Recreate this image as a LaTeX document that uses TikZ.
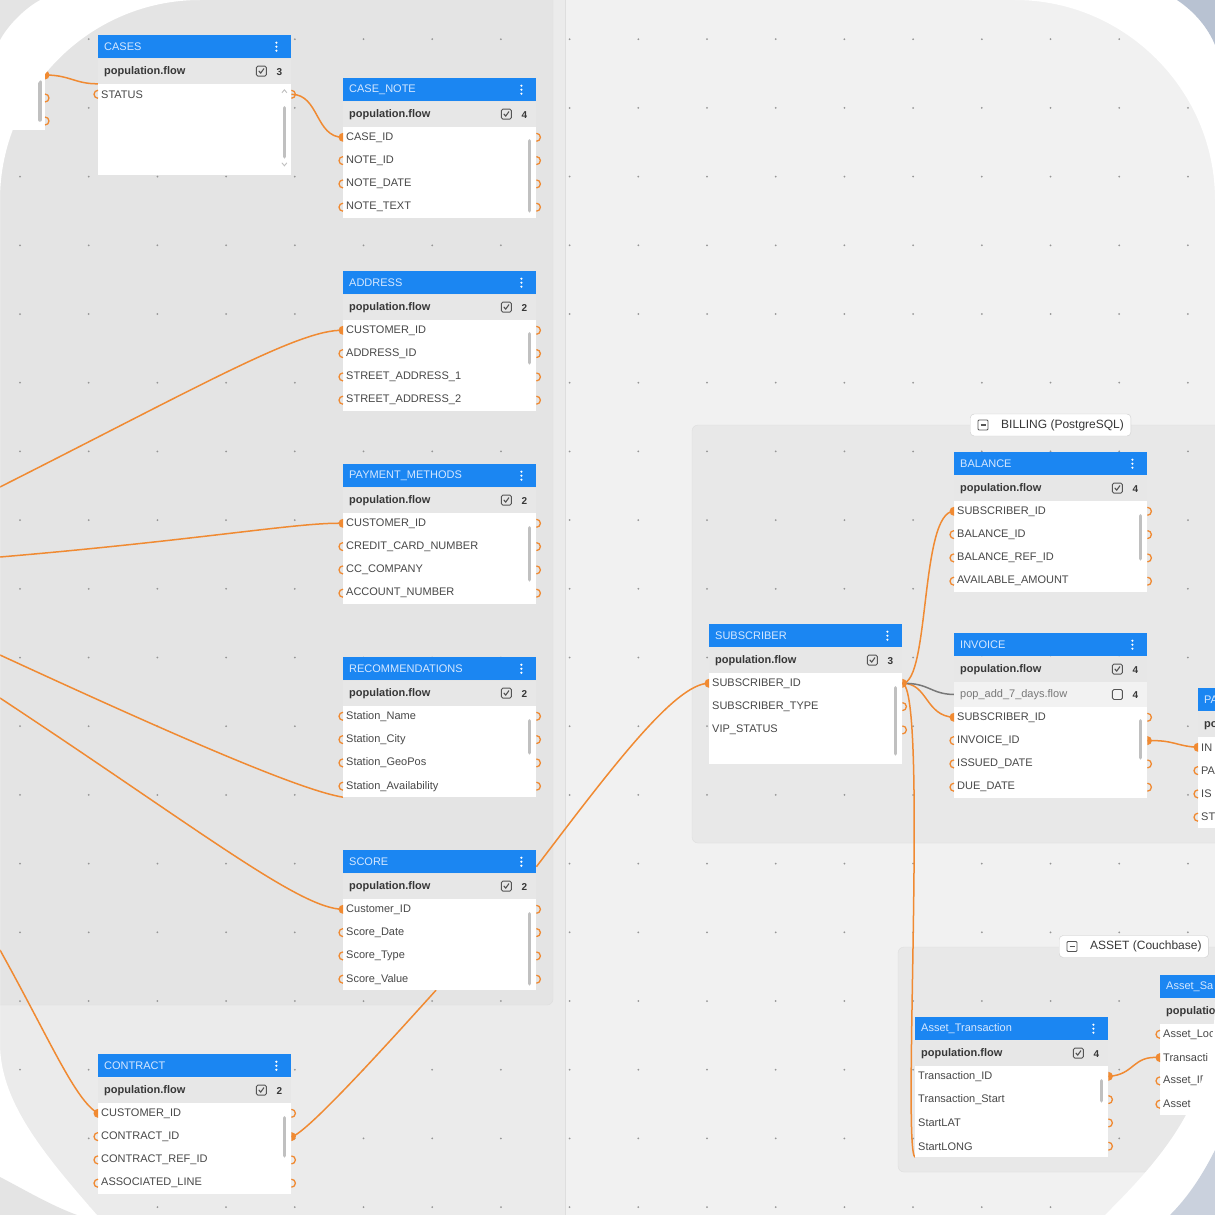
\documentclass[tikz,border=0pt]{standalone}
\usepackage{fontspec}
\setmainfont{Liberation Sans}
\usetikzlibrary{calc,positioning}
\pgfdeclarelayer{bg}
\pgfdeclarelayer{lines}
\pgfdeclarelayer{fg}
\pgfsetlayers{bg,lines,main,fg}

\definecolor{dbblue}{RGB}{27,134,242}
\definecolor{titletext}{RGB}{214,232,255}
\definecolor{headgray}{RGB}{231,231,231}
\definecolor{popgray}{RGB}{242,242,242}
\definecolor{headtext}{RGB}{55,55,55}
\definecolor{rowtext}{RGB}{72,72,72}
\definecolor{chkgray}{RGB}{85,85,85}
\definecolor{scrollgray}{RGB}{192,192,192}
\definecolor{linkorange}{RGB}{240,138,50}
\definecolor{linkgray}{RGB}{120,120,120}
\definecolor{canvas}{RGB}{241,241,241}
\definecolor{leftcol}{RGB}{235,235,235}
\definecolor{panelgray}{RGB}{228,228,228}
\definecolor{grpgray}{RGB}{232,232,232}
\definecolor{grpline}{RGB}{222,222,222}
\definecolor{dotgray}{RGB}{150,150,150}
\definecolor{labelline}{RGB}{205,205,205}
\definecolor{outergray}{RGB}{228,228,228}
\definecolor{outerblue}{RGB}{184,194,210}

\newcommand\dbtable[7][0]{%
  \node[dbtitle] (#2) at (#3,#4) {#5};
  \foreach \d in {-4,0,4}
    \fill[white] ([xshift=-15pt,yshift=\d pt]#2.east) circle[radius=1.2pt];
  \node[dbhead] (#2-h) at (#2.south west) {population.flow};
  \node[chk] at ([xshift=-30pt]#2-h.east) {};
  \node[cnt] at ([xshift=-12pt,yshift=-1pt]#2-h.east) {#6};
  \node[dbbody] (#2-b) at ([yshift=-#1pt]#2-h.south west) {};
  \foreach \f [count=\i] in {#7}
    \node[dbrow] (#2-\i) at ([yshift={-10.5-23.3*(\i-1)}]#2-b.north west) {\f};
}

\begin{document}
\begin{tikzpicture}[x=1pt,y=-1pt,
  dbtitle/.style={anchor=north west,fill=dbblue,text=titletext,minimum height=23pt,text width=181pt,inner xsep=6pt,inner ysep=0pt,align=left,font=\fontsize{11}{13}\selectfont},
  dbhead/.style={anchor=north west,fill=headgray,text=headtext,minimum height=25pt,text width=181pt,text height=8pt,text depth=2pt,inner xsep=6pt,inner ysep=0pt,align=left,font=\bfseries\fontsize{11}{13}\selectfont},
  dbbody/.style={anchor=north west,fill=white,minimum width=193pt,minimum height=91pt,inner sep=0pt},
  dbrow/.style={anchor=west,text=rowtext,text width=187pt,inner xsep=3pt,inner ysep=0pt,align=left,font=\fontsize{11}{13}\selectfont},
  chkbox/.style={draw=chkgray,line width=0.9pt,rounded corners=1.5pt,minimum size=10pt,inner sep=0pt},
  chk/.style={chkbox,path picture={\draw[chkgray,line width=1.1pt,sharp corners] ([xshift=-2.6pt,yshift=0.2pt]path picture bounding box.center) -- ++(1.9pt,-2.2pt) -- ++(3.3pt,4.6pt);}},
  cnt/.style={text=headtext,inner sep=0pt,font=\bfseries\fontsize{10}{12}\selectfont},
  scroll/.style={draw=scrollgray,line width=3.5pt,line cap=round},
  scrollarrow/.style={draw=scrollgray,line width=0.9pt},
  link/.style={draw=linkorange,line width=1.5pt},
  glink/.style={draw=linkgray,line width=1.5pt},
  grouplabel/.style={anchor=west,fill=white,draw=labelline,rounded corners=4pt,minimum height=22pt,inner xsep=7pt,inner ysep=0pt,text=headtext,font=\fontsize{12}{14}\selectfont},
  minusbox/.style={draw=chkgray,line width=0.8pt,rounded corners=1pt,minimum size=10pt,inner sep=0pt,path picture={\draw[chkgray,line width=1.2pt] ([xshift=-2.5pt]path picture bounding box.center) -- ++(5pt,0pt);}},
  portl/.pic={\draw[linkorange,line width=1.3pt] (0pt,4pt) arc[start angle=90,end angle=270,radius=4pt];},
  portr/.pic={\draw[linkorange,line width=1.3pt] (0pt,4pt) arc[start angle=90,end angle=-90,radius=4pt];},
  portlf/.pic={\fill[linkorange] (0pt,4.5pt) arc[start angle=90,end angle=270,radius=4.5pt] -- cycle;},
  portrf/.pic={\fill[linkorange] (0pt,4.5pt) arc[start angle=90,end angle=-90,radius=4.5pt] -- cycle;}]
\useasboundingbox (0,0) rectangle (1215,1215);

\begin{pgfonlayer}{bg}
  \fill[canvas] (-5,-5) rectangle (1220,1220);
  \fill[leftcol] (-5,-5) rectangle (565,1220);
  \draw[grpline] (565,-5) -- (565,1220);
  \filldraw[fill=panelgray,draw=grpline,rounded corners=6pt] (-20,-20) rectangle (553,1005);
  \filldraw[fill=grpgray,draw=grpline,rounded corners=6pt] (692,425) rectangle (1240,843);
  \filldraw[fill=grpgray,draw=grpline,rounded corners=6pt] (898,947) rectangle (1240,1172);
  \foreach \i in {0,...,17}
    \foreach \j in {0,...,17}
      \fill[dotgray] ({20+68.7*\i},{39.2+68.7*\j}) circle[radius=1pt];
\end{pgfonlayer}

\node[grouplabel] (billing) at (970,425) {\hspace{24pt}BILLING (PostgreSQL)};
\node[minusbox] at ([xshift=13pt]billing.west) {};
\node[grouplabel] (asset) at (1059,946.5) {\hspace{24pt}ASSET (Couchbase)};
\node[minusbox] at ([xshift=13pt]asset.west) {};

\node[fill=white,anchor=north east,minimum width=60pt,minimum height=70pt,inner sep=0pt] (lp) at (45,60) {};
\coordinate (lp-1) at (45,75);
\coordinate (lp-2) at (45,98);
\coordinate (lp-3) at (45,121);
\draw[scroll] (40,82) -- (40,120);

\dbtable{cases}{98}{35}{CASES}{3}{STATUS}
\dbtable{casenote}{343}{78}{CASE\_NOTE}{4}{CASE\_ID,NOTE\_ID,NOTE\_DATE,NOTE\_TEXT}
\dbtable{address}{343}{271}{ADDRESS}{2}{CUSTOMER\_ID,ADDRESS\_ID,STREET\_ADDRESS\_1,STREET\_ADDRESS\_2}
\dbtable{payment}{343}{464}{PAYMENT\_METHODS}{2}{CUSTOMER\_ID,CREDIT\_CARD\_NUMBER,CC\_COMPANY,ACCOUNT\_NUMBER}
\dbtable{recomm}{343}{657}{RECOMMENDATIONS}{2}{Station\_Name,Station\_City,Station\_GeoPos,Station\_Availability}
\dbtable{score}{343}{850}{SCORE}{2}{Customer\_ID,Score\_Date,Score\_Type,Score\_Value}
\dbtable{contract}{98}{1054}{CONTRACT}{2}{CUSTOMER\_ID,CONTRACT\_ID,CONTRACT\_REF\_ID,ASSOCIATED\_LINE}
\dbtable{subscriber}{709}{624}{SUBSCRIBER}{3}{SUBSCRIBER\_ID,SUBSCRIBER\_TYPE,VIP\_STATUS}
\dbtable{balance}{954}{452}{BALANCE}{4}{SUBSCRIBER\_ID,BALANCE\_ID,BALANCE\_REF\_ID,AVAILABLE\_AMOUNT}
\dbtable[25]{invoice}{954}{633}{INVOICE}{4}{SUBSCRIBER\_ID,INVOICE\_ID,ISSUED\_DATE,DUE\_DATE}
\node[dbhead,fill=popgray,text=linkgray,font=\fontsize{11}{13}\selectfont] (invoice-p) at (invoice-h.south west) {pop\_add\_7\_days.flow};
\node[chkbox] at ([xshift=-30pt]invoice-p.east) {};
\node[cnt] at ([xshift=-12pt,yshift=-1pt]invoice-p.east) {4};
\dbtable{pa}{1198}{688}{PA}{}{IN,PA,IS,ST}
\dbtable{assettr}{915}{1017}{Asset\_Transaction}{4}{Transaction\_ID,Transaction\_Start,StartLAT,StartLONG}
\dbtable{assetsa}{1160}{975}{Asset\_Sa}{}{Asset\_Loc,Transacti,Asset\_ID,Asset}

\foreach \t/\a/\b in {cases/24/73,casenote/14/84,address/14/43,payment/15/67,recomm/15/47,score/15/85,contract/15/53,subscriber/15/81,balance/15/58,invoice/14/51,assettr/15/35}
  \draw[scroll] ([xshift=-7pt,yshift=-\a pt]\t-b.north east) -- ([xshift=-7pt,yshift=-\b pt]\t-b.north east);
\draw[scrollarrow] ([xshift=-9.5pt,yshift=-9pt]cases-b.north east) -- ++(2.5pt,3pt) -- ++(2.5pt,-3pt);
\draw[scrollarrow] ([xshift=-9.5pt,yshift=-79pt]cases-b.north east) -- ++(2.5pt,-3pt) -- ++(2.5pt,3pt);

\foreach \t in {casenote,address,payment,recomm,score,balance}
  \foreach \i in {1,...,4}
    \pic at (\t-\i.east) {portr};
\foreach \t/\i in {cases/1,invoice/1,invoice/3,invoice/4,contract/1,contract/3,contract/4,subscriber/2,subscriber/3,assettr/2,assettr/3,assettr/4}
  \pic at (\t-\i.east) {portr};
\foreach \t/\i in {invoice/2,contract/2,subscriber/1,assettr/1}
  \pic at (\t-\i.east) {portrf};
\foreach \t in {casenote,address,payment,score,balance,invoice,contract,subscriber,pa}
  \pic at (\t-1.west) {portlf};
\foreach \t in {casenote,address,payment,score,balance,invoice,contract,pa}
  \foreach \i in {2,3,4}
    \pic at (\t-\i.west) {portl};
\foreach \t/\i in {recomm/1,recomm/2,recomm/3,recomm/4,cases/1,assetsa/1,assetsa/3,assetsa/4}
  \pic at (\t-\i.west) {portl};
\pic at (assetsa-2.west) {portlf};
\pic at (lp-1) {portrf};
\pic at (lp-2) {portr};
\pic at (lp-3) {portr};

\coordinate (from-a) at (0,487);
\coordinate (from-b) at (0,557);
\coordinate (from-c) at (0,655);
\coordinate (from-d) at (0,698);
\coordinate (from-e) at (0,950);
\coordinate (score-tail) at ([xshift=93pt]score-b.south west);

\begin{pgfonlayer}{lines}
  \draw[link] (lp-1) .. controls (70,75) and (75,84) .. (cases-b.north west);
  \draw[link] (cases-1.east) .. controls +(28,0) and +(-28,0) .. (casenote-1.west);
  \draw[link] (from-a) .. controls (200,386) and (300,329) .. (address-1.west);
  \draw[link] (from-b) .. controls (200,540) and (300,522) .. (payment-1.west);
  \draw[link] (from-c) .. controls (180,738) and (300,790) .. (recomm-b.south west);
  \draw[link] (from-d) .. controls (200,830) and (300,909) .. (score-1.west);
  \draw[link] (from-e) .. controls (50,1040) and (75,1100) .. (contract-1.west);
  \draw[link] ([yshift=-5pt]score.east) .. controls (610,770) and (675,683) .. (subscriber-1.west);
  \draw[link] (contract-2.east) .. controls (305,1136) and (400,1030) .. (score-tail);
  \draw[link] (subscriber-1.east) .. controls (930,683) and (920,511) .. (balance-1.west);
  \draw[link] (subscriber-1.east) .. controls (928,683) and (925,716) .. (invoice-1.west);
  \draw[glink] (subscriber-1.east) .. controls (930,683) and (930,694) .. (invoice-p.west);
  \draw[link] (subscriber-1.east) .. controls (928,690) and (902,1150) .. (assettr-b.south west);
  \draw[link] (invoice-2.east) .. controls (1175,740) and (1175,746) .. (pa-1.west);
  \draw[link] (assettr-1.east) .. controls (1135,1075) and (1132,1055) .. (assetsa-2.west);
\end{pgfonlayer}

\begin{pgfonlayer}{fg}
  \fill[white,even odd rule] (-5,-5) rectangle (1220,1220)
    (0,200) .. controls (0,90) and (90,0) .. (200,0) -- (1015,0)
    .. controls (1125,0) and (1215,90) .. (1215,200) -- (1215,1000)
    .. controls (1215,1100) and (1160,1160) .. (1105,1215) -- (1105,1225) -- (90,1225) -- (97,1215)
    .. controls (40,1150) and (0,1100) .. (0,1043) -- cycle;
  \fill[outergray] (0,0) -- (40,0) .. controls (25,8) and (8,25) .. (0,40) -- cycle;
  \fill[outerblue] (1177,0) .. controls (1195,12) and (1208,28) .. (1215,45) -- (1215,0) -- cycle;
  \fill[outerblue!75!white] (1215,1150) .. controls (1200,1180) and (1185,1200) .. (1170,1215) -- (1215,1215) -- cycle;
  \fill[outergray] (0,1177) .. controls (25,1190) and (50,1205) .. (77,1215) -- (0,1215) -- cycle;
\end{pgfonlayer}
\end{tikzpicture}
\end{document}
